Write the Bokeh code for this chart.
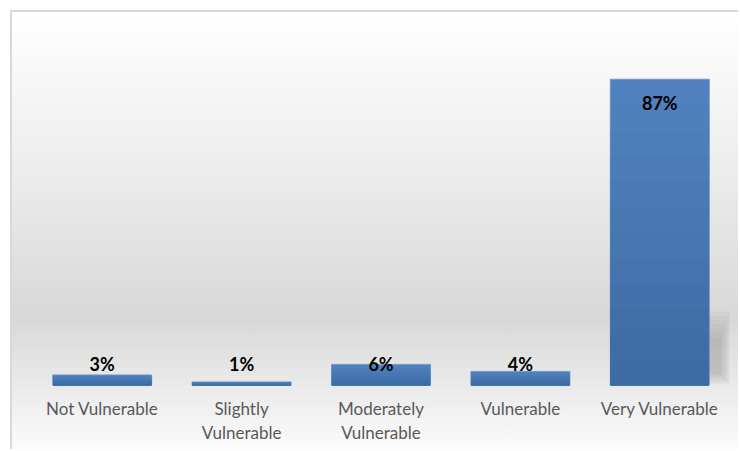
from bokeh.plotting import figure
from bokeh.models import Range1d, FixedTicker, ColumnDataSource
from bokeh.core.properties import value
from bokeh.embed import file_html
from bokeh.resources import INLINE

categories = ["Not Vulnerable", "Slightly Vulnerable", "Moderately Vulnerable", "Vulnerable", "Very Vulnerable"]
tick_labels = ["Not Vulnerable", "Slightly\nVulnerable", "Moderately\nVulnerable", "Vulnerable", "Very Vulnerable"]
percent = [3, 1, 6, 4, 87]

xs = list(range(len(categories)))

p = figure(width=728, height=439, output_backend="svg", toolbar_location=None,
           x_range=Range1d(-0.5, len(categories) - 0.5), y_range=Range1d(0, 100),
           y_axis_location=None, min_border_left=20, min_border_right=11,
           min_border_top=21, min_border_bottom=66,
           background_fill_color=None, border_fill_color=None, outline_line_color=None,
           styles={"margin-left": "10px", "margin-top": "10px",
                   "border-top": "2px solid #d9d9d9", "border-left": "2px solid #d9d9d9",
                   "background": "linear-gradient(to bottom, #ffffff 0%, #ededed 35%, #d8d8d8 70%, #fbfbfb 100%)"})
p.grid.visible = False

# soft shadow behind the tallest bar
bw = 0.71
imax = percent.index(max(percent))
edge = xs[imax] + bw / 2
hmax = min(max(percent), 21.0)
for k in range(7):
    p.quad(left=[edge - 0.01], right=[edge + 0.155 - 0.012 * k],
           bottom=[0.3 + 0.5 * k], top=[hmax - 1.2 * k],
           fill_color="#606060", fill_alpha=0.045, line_color=None)

# bars with a vertical gradient (light top to darker bottom)
top_rgb = (0x50, 0x82, 0xbf)
bot_rgb = (0x3b, 0x69, 0xa1)
N = 12
src = ColumnDataSource(dict(x=xs, v=percent))
p.vbar(x="x", top="v", width=bw, source=src, fill_color="#5080bf", line_color="#6f99cf", line_width=1)
for j in range(1, N):
    f = j / N
    col = "#%02x%02x%02x" % tuple(int(round(t + (b - t) * f)) for t, b in zip(top_rgb, bot_rgb))
    tops = [v * (1 - f) for v in percent]
    p.vbar(x=xs, top=tops, width=bw - 0.006, fill_color=col, line_color=None)

# value labels: inside end, but kept above the base for short bars
label_y = [max(v - 6.8, 6.0) for v in percent]
p.text(x=xs, y=label_y, text=[f"{v}%" for v in percent], text_align="center",
       text_baseline="middle", text_font=value("Lato"), text_font_style="bold",
       text_font_size="18px", text_color="#000000")

ax = p.xaxis[0]
ax.ticker = FixedTicker(ticks=xs)
ax.major_label_overrides = {i: t for i, t in zip(xs, tick_labels)}
ax.axis_line_color = None
ax.major_tick_line_color = None
ax.minor_tick_line_color = None
ax.major_tick_out = 0
ax.major_label_standoff = 12
ax.major_label_text_font = "Lato"
ax.major_label_text_font_size = "17px"
ax.major_label_text_color = "#595959"
ax.major_label_text_line_height = 1.15

open("out.html", "w").write(file_html(p, INLINE))
